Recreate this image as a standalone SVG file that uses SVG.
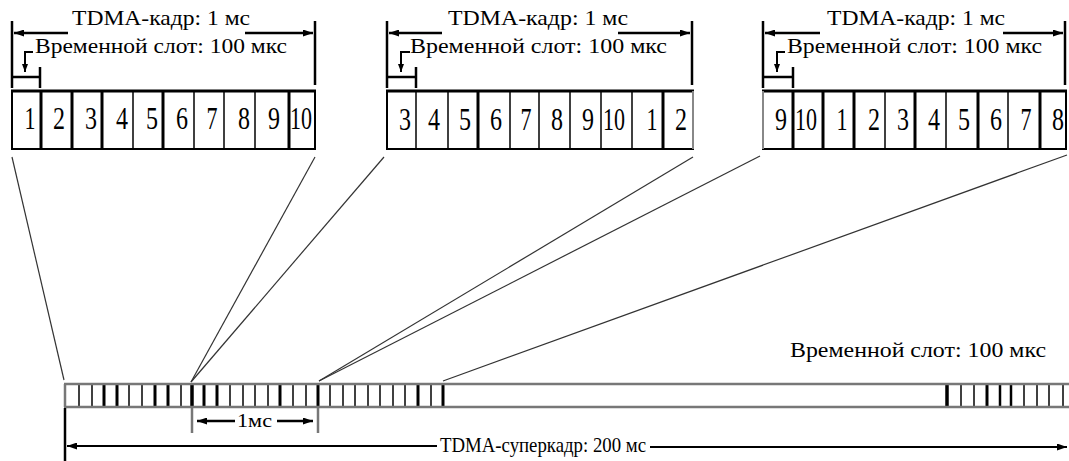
<svg xmlns="http://www.w3.org/2000/svg" width="1069" height="461" viewBox="0 0 1069 461">
<style>
text{font-family:"Liberation Serif","Times New Roman",serif;fill:#000}
.t{font-size:22px}
.d{font-size:31px;text-anchor:middle}
.k{stroke:#000;fill:none}
.dim{stroke:#000;stroke-width:2.5;fill:none}
.box{fill:#fff;stroke:#000;stroke-width:2}
.sep{stroke:#000;stroke-width:1.5}
.sepb{stroke:#000;stroke-width:3}
.g{stroke:#777;stroke-width:2.5;fill:none}
.con{stroke:#333;stroke-width:1.2;fill:none}
</style>
<defs>
<marker id="arr" viewBox="0 0 10 7" refX="10" refY="3.5" markerWidth="10" markerHeight="7" markerUnits="userSpaceOnUse" orient="auto">
<path d="M0,0 L10,3.5 L0,7 z" fill="#000"/>
</marker>
<marker id="arrs" viewBox="0 0 8 6" refX="8" refY="3" markerWidth="8" markerHeight="6" markerUnits="userSpaceOnUse" orient="auto">
<path d="M0,0 L8,3 L0,6 z" fill="#000"/>
</marker>
</defs>
<rect width="1069" height="461" fill="#fff"/>

<g id="connectors">
<line class="con" x1="12" y1="157" x2="64" y2="380"/>
<line class="con" x1="315" y1="157" x2="191" y2="382"/>
<line class="con" x1="384" y1="157" x2="191" y2="382"/>
<line class="con" x1="693" y1="157" x2="319" y2="381"/>
<line class="con" x1="760" y1="156" x2="319" y2="381"/>
<line class="con" x1="1067" y1="155" x2="443" y2="381"/>
</g>

<g id="frame1">
<line class="dim" x1="12" y1="21" x2="12" y2="88"/>
<line class="dim" x1="315" y1="21" x2="315" y2="85"/>
<line class="dim" x1="68" y1="33" x2="14" y2="33" marker-end="url(#arr)"/>
<line class="dim" x1="245" y1="33" x2="313" y2="33" marker-end="url(#arr)"/>
<text class="t" x="161" y="25" text-anchor="middle" textLength="178" lengthAdjust="spacingAndGlyphs">TDMA-кадр: 1 мс</text>
<text class="t" x="35" y="53" textLength="252" lengthAdjust="spacingAndGlyphs">Временной слот: 100 мкс</text>
<path class="k" stroke-width="2" d="M33,52 H25 V72" marker-end="url(#arrs)"/>
<line class="dim" x1="12" y1="77" x2="40" y2="77"/>
<line class="dim" x1="40" y1="67" x2="40" y2="88"/>
<rect class="box" x="12" y="91" width="303" height="58"/>
<line stroke="#000" stroke-width="3" x1="11" y1="91" x2="316" y2="91"/>
<line class="sepb" x1="41" y1="91" x2="41" y2="149"/>
<line class="sepb" x1="72" y1="91" x2="72" y2="149"/>
<line class="sepb" x1="102" y1="91" x2="102" y2="149"/>
<line class="sep" x1="133" y1="91" x2="133" y2="149"/>
<line class="sepb" x1="163" y1="91" x2="163" y2="149"/>
<line class="sep" x1="194" y1="91" x2="194" y2="149"/>
<line class="sep" x1="224" y1="91" x2="224" y2="149"/>
<line class="sep" x1="255" y1="91" x2="255" y2="149"/>
<line class="sepb" x1="289" y1="91" x2="289" y2="149"/>
<text class="d" x="30" y="129" textLength="11" lengthAdjust="spacingAndGlyphs">1</text>
<text class="d" x="59" y="129" textLength="12" lengthAdjust="spacingAndGlyphs">2</text>
<text class="d" x="91" y="129" textLength="12" lengthAdjust="spacingAndGlyphs">3</text>
<text class="d" x="122" y="129" textLength="12" lengthAdjust="spacingAndGlyphs">4</text>
<text class="d" x="152" y="129" textLength="12" lengthAdjust="spacingAndGlyphs">5</text>
<text class="d" x="182" y="129" textLength="12" lengthAdjust="spacingAndGlyphs">6</text>
<text class="d" x="212" y="129" textLength="11" lengthAdjust="spacingAndGlyphs">7</text>
<text class="d" x="244" y="129" textLength="12" lengthAdjust="spacingAndGlyphs">8</text>
<text class="d" x="274" y="129" textLength="12" lengthAdjust="spacingAndGlyphs">9</text>
<text class="d" x="301" y="129" textLength="22" lengthAdjust="spacingAndGlyphs">10</text>
</g>

<g id="frame2">
<line class="dim" x1="387" y1="21" x2="387" y2="88"/>
<line class="dim" x1="692" y1="21" x2="692" y2="85"/>
<line class="dim" x1="442" y1="33" x2="389" y2="33" marker-end="url(#arr)"/>
<line class="dim" x1="618" y1="33" x2="690" y2="33" marker-end="url(#arr)"/>
<text class="t" x="538" y="25" text-anchor="middle" textLength="180" lengthAdjust="spacingAndGlyphs">TDMA-кадр: 1 мс</text>
<text class="t" x="410" y="53" textLength="257" lengthAdjust="spacingAndGlyphs">Временной слот: 100 мкс</text>
<path class="k" stroke-width="2" d="M410,52 H401 V72" marker-end="url(#arrs)"/>
<line class="dim" x1="387" y1="77" x2="416" y2="77"/>
<line class="dim" x1="416" y1="67" x2="416" y2="88"/>
<rect class="box" x="387" y="91" width="306" height="58"/>
<line stroke="#000" stroke-width="3" x1="386" y1="91" x2="694" y2="91"/>
<line stroke="#888" stroke-width="2" x1="693" y1="91" x2="693" y2="149"/>
<line class="sep" x1="416" y1="91" x2="416" y2="149"/>
<line class="sep" x1="448" y1="91" x2="448" y2="149" stroke-width="2"/>
<line class="sepb" x1="478" y1="91" x2="478" y2="149"/>
<line class="sep" x1="510" y1="91" x2="510" y2="149"/>
<line class="sep" x1="539" y1="91" x2="539" y2="149"/>
<line class="sep" x1="570" y1="91" x2="570" y2="149" stroke-width="2"/>
<line class="sep" x1="601" y1="91" x2="601" y2="149"/>
<line class="sep" x1="632" y1="91" x2="632" y2="149"/>
<line class="sepb" x1="663" y1="91" x2="663" y2="149"/>
<text class="d" x="405" y="130" textLength="12" lengthAdjust="spacingAndGlyphs">3</text>
<text class="d" x="434" y="130" textLength="12" lengthAdjust="spacingAndGlyphs">4</text>
<text class="d" x="465" y="130" textLength="12" lengthAdjust="spacingAndGlyphs">5</text>
<text class="d" x="496" y="130" textLength="12" lengthAdjust="spacingAndGlyphs">6</text>
<text class="d" x="526" y="130" textLength="11" lengthAdjust="spacingAndGlyphs">7</text>
<text class="d" x="557" y="130" textLength="12" lengthAdjust="spacingAndGlyphs">8</text>
<text class="d" x="588" y="130" textLength="12" lengthAdjust="spacingAndGlyphs">9</text>
<text class="d" x="614" y="130" textLength="22" lengthAdjust="spacingAndGlyphs">10</text>
<text class="d" x="652" y="130" textLength="11" lengthAdjust="spacingAndGlyphs">1</text>
<text class="d" x="681" y="130" textLength="12" lengthAdjust="spacingAndGlyphs">2</text>
</g>

<g id="frame3">
<line class="dim" x1="763" y1="21" x2="763" y2="88"/>
<line class="dim" x1="1065" y1="21" x2="1065" y2="85"/>
<line class="dim" x1="820" y1="33" x2="765" y2="33" marker-end="url(#arr)"/>
<line class="dim" x1="1003" y1="33" x2="1063" y2="33" marker-end="url(#arr)"/>
<text class="t" x="916" y="25" text-anchor="middle" textLength="178" lengthAdjust="spacingAndGlyphs">TDMA-кадр: 1 мс</text>
<text class="t" x="787" y="53" textLength="255" lengthAdjust="spacingAndGlyphs">Временной слот: 100 мкс</text>
<path class="k" stroke-width="2" d="M785,52 H777 V72" marker-end="url(#arrs)"/>
<line class="dim" x1="763" y1="77" x2="793" y2="77"/>
<line class="dim" x1="793" y1="67" x2="793" y2="88"/>
<rect class="box" x="763" y="91" width="303" height="58"/>
<line stroke="#000" stroke-width="3" x1="762" y1="91" x2="1067" y2="91"/>
<line stroke="#888" stroke-width="2" x1="763" y1="91" x2="763" y2="149"/>
<line class="sepb" x1="793" y1="91" x2="793" y2="149"/>
<line class="sepb" x1="823" y1="91" x2="823" y2="149"/>
<line class="sepb" x1="854" y1="91" x2="854" y2="149"/>
<line class="sep" x1="885" y1="91" x2="885" y2="149"/>
<line class="sepb" x1="915" y1="91" x2="915" y2="149"/>
<line class="sep" x1="946" y1="91" x2="946" y2="149"/>
<line class="sepb" x1="978" y1="91" x2="978" y2="149"/>
<line class="sep" x1="1008" y1="91" x2="1008" y2="149"/>
<line class="sepb" x1="1040" y1="91" x2="1040" y2="149"/>
<text class="d" x="781" y="130" textLength="12" lengthAdjust="spacingAndGlyphs">9</text>
<text class="d" x="806" y="130" textLength="22" lengthAdjust="spacingAndGlyphs">10</text>
<text class="d" x="842" y="130" textLength="11" lengthAdjust="spacingAndGlyphs">1</text>
<text class="d" x="874" y="130" textLength="12" lengthAdjust="spacingAndGlyphs">2</text>
<text class="d" x="903" y="130" textLength="12" lengthAdjust="spacingAndGlyphs">3</text>
<text class="d" x="934" y="130" textLength="12" lengthAdjust="spacingAndGlyphs">4</text>
<text class="d" x="964" y="130" textLength="12" lengthAdjust="spacingAndGlyphs">5</text>
<text class="d" x="996" y="130" textLength="12" lengthAdjust="spacingAndGlyphs">6</text>
<text class="d" x="1026" y="130" textLength="11" lengthAdjust="spacingAndGlyphs">7</text>
<text class="d" x="1058" y="130" textLength="12" lengthAdjust="spacingAndGlyphs">8</text>
</g>

<g id="superframe">
<rect x="65" y="384" width="1006" height="23" fill="#fff"/>
<g class="sep">
<line x1="79" y1="385" x2="79" y2="406"/>
<line x1="92" y1="385" x2="92" y2="406"/>
<line x1="104" y1="385" x2="104" y2="406" stroke-width="3"/>
<line x1="117" y1="385" x2="117" y2="406" stroke-width="3"/>
<line x1="129" y1="385" x2="129" y2="406"/>
<line x1="142" y1="385" x2="142" y2="406"/>
<line x1="155" y1="385" x2="155" y2="406" stroke-width="3"/>
<line x1="168" y1="385" x2="168" y2="406" stroke-width="3"/>
<line x1="181" y1="385" x2="181" y2="406"/>
<line x1="192" y1="385" x2="192" y2="406" stroke-width="3.5"/>
<line x1="204" y1="385" x2="204" y2="406" stroke-width="3"/>
<line x1="217" y1="385" x2="217" y2="406" stroke-width="3"/>
<line x1="230" y1="385" x2="230" y2="406"/>
<line x1="243" y1="385" x2="243" y2="406"/>
<line x1="255" y1="385" x2="255" y2="406"/>
<line x1="268" y1="385" x2="268" y2="406"/>
<line x1="280" y1="385" x2="280" y2="406" stroke-width="3"/>
<line x1="293" y1="385" x2="293" y2="406"/>
<line x1="306" y1="385" x2="306" y2="406"/>
<line x1="318" y1="385" x2="318" y2="406" stroke-width="3"/>
<line x1="330" y1="385" x2="330" y2="406"/>
<line x1="343" y1="385" x2="343" y2="406"/>
<line x1="355" y1="385" x2="355" y2="406"/>
<line x1="368" y1="385" x2="368" y2="406"/>
<line x1="380" y1="385" x2="380" y2="406"/>
<line x1="393" y1="385" x2="393" y2="406"/>
<line x1="405" y1="385" x2="405" y2="406"/>
<line x1="418" y1="385" x2="418" y2="406" stroke-width="3"/>
<line x1="431" y1="385" x2="431" y2="406"/>
<line x1="443" y1="385" x2="443" y2="406" stroke-width="3"/>
<line x1="947" y1="385" x2="947" y2="406" stroke-width="3.5"/>
<line x1="961" y1="385" x2="961" y2="406"/>
<line x1="974" y1="385" x2="974" y2="406"/>
<line x1="987" y1="385" x2="987" y2="406" stroke-width="3"/>
<line x1="1000" y1="385" x2="1000" y2="406" stroke-width="2.5"/>
<line x1="1011" y1="385" x2="1011" y2="406" stroke-width="2.5"/>
<line x1="1024" y1="385" x2="1024" y2="406"/>
<line x1="1037" y1="385" x2="1037" y2="406"/>
<line x1="1049" y1="385" x2="1049" y2="406"/>
<line x1="1063" y1="385" x2="1063" y2="406"/>
</g>
<line class="g" x1="64" y1="384" x2="1069" y2="384"/>
<line class="g" x1="64" y1="407" x2="1069" y2="407"/>
<line class="g" x1="65" y1="384" x2="65" y2="407" stroke-width="2"/>
<line class="g" x1="192" y1="408" x2="192" y2="433"/>
<line class="g" x1="318" y1="408" x2="318" y2="433"/>
<line class="dim" x1="235" y1="421" x2="197" y2="421" marker-end="url(#arr)"/>
<line class="dim" x1="277" y1="421" x2="313" y2="421" marker-end="url(#arr)"/>
<text x="237" y="427" font-size="19" textLength="35" lengthAdjust="spacingAndGlyphs">1мс</text>
<line class="dim" x1="65" y1="408" x2="65" y2="461"/>
<line class="k" stroke-width="2" x1="437" y1="446" x2="67" y2="446" marker-end="url(#arr)"/>
<line class="k" stroke-width="2" x1="650" y1="447" x2="1067" y2="447" marker-end="url(#arr)"/>
<text x="440" y="452" font-size="21" textLength="206" lengthAdjust="spacingAndGlyphs">TDMA-суперкадр: 200 мс</text>
<text x="790" y="357" font-size="21" textLength="256" lengthAdjust="spacingAndGlyphs">Временной слот: 100 мкс</text>
</g>
</svg>
